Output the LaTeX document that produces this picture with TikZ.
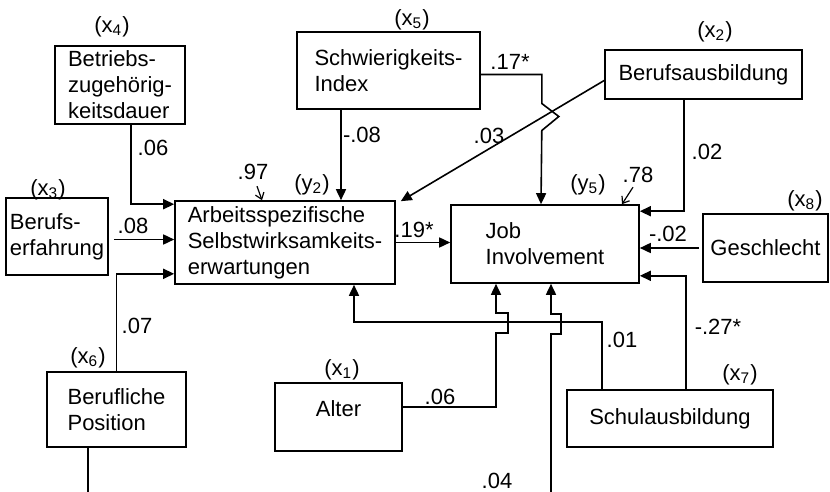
\documentclass[tikz,border=0pt]{standalone}
\usepackage{fontspec}
\setmainfont{Liberation Sans}
\usetikzlibrary{arrows.meta,calc}

\tikzset{
  var/.style={draw, line width=0.8pt, align=left, inner sep=0pt},
  arr/.style={line width=0.8pt, -{Triangle[length=5.5pt,width=5pt]}},
  lin/.style={line width=0.8pt},
  res/.style={line width=0.6pt, -{Straight Barb[length=3pt,width=4.5pt]}},
  coef/.style={inner sep=1pt},
  idx/.style={inner sep=1pt}
}

\begin{document}
\begin{tikzpicture}[x=0.5pt,y=-0.5pt,font=\fontsize{11}{13}\selectfont]
  \useasboundingbox (0,0) rectangle (830,492);

  % Variables
  \node[var, minimum width=65pt, minimum height=39pt] (x4) at (120,85) {Betriebs-\\zugehörig-\\keitsdauer};
  \node[var, minimum width=91.5pt, minimum height=38.5pt] (x5) at (388.5,70.5) {Schwierigkeits-\\Index};
  \node[var, minimum width=98.5pt, minimum height=24.5pt] (x2) at (703.5,74.5) {Berufsausbildung};
  \node[var, minimum width=51pt, minimum height=38.5pt] (x3) at (57,236.5) {Berufs-\\erfahrung};
  \node[var, minimum width=110pt, minimum height=41.5pt] (y2) at (285,242.5) {Arbeitsspezifische\\Selbstwirksamkeits-\\erwartungen};
  \node[var, minimum width=94pt, minimum height=39pt] (y5) at (545,244) {Job\\Involvement};
  \node[var, minimum width=62.5pt, minimum height=34pt] (x8) at (765.5,248) {Geschlecht};
  \node[var, minimum width=69.5pt, minimum height=37.5pt] (x6) at (116.5,409.5) {Berufliche\\Position};
  \node[var, minimum width=63.5pt, text height=16.5pt, text depth=17.5pt] (x1) at (338.5,417) {Alter};
  \node[var, minimum width=103pt, minimum height=28.5pt] (x7) at (670,418.5) {Schulausbildung};

  % Indices
  \node[idx] (ix4) at (112,27) {(x\textsubscript{4})};
  \node[idx] (ix5) at (412,20) {(x\textsubscript{5})};
  \node[idx] (ix2) at (715,32) {(x\textsubscript{2})};
  \node[idx] (ix3) at (48,190) {(x\textsubscript{3})};
  \node[idx] (iy2) at (312,185) {(y\textsubscript{2})};
  \node[idx] (iy5) at (588,185) {(y\textsubscript{5})};
  \node[idx] (ix8) at (805,201) {(x\textsubscript{8})};
  \node[idx] (ix6) at (88,358) {(x\textsubscript{6})};
  \node[idx] (ix1) at (342,370) {(x\textsubscript{1})};
  \node[idx] (ix7) at (740,375) {(x\textsubscript{7})};

  % Residuals
  \node[coef] (r2) at (253,172) {.97};
  \node[coef] (r5) at (638,175) {.78};
  \draw[res] ($(r2.south)+(4,4)$) -- ($(y2.north)+(-23,0)$);
  \draw[res] ($(r5.south)+(-5,2)$) -- ($(y5.north)+(77,0)$);

  % Paths
  \coordinate (x6end) at (88,492);
  \coordinate (cut) at (551,492);
  \draw[arr] ($(x4.south)+(11,0)$) |- ($(y2.north west)+(0,4)$);
  \draw[arr] ($(x3.east)+(5,3)$) -- ($(x3.east -| y2.west)+(0,3)$);
  \draw[arr] (x6.north) |- ($(y2.south west)+(0,-11)$);
  \draw[lin] (x6.south -| x6end) -- (x6end);
  \draw[arr] ($(x5.south)+(-47.5,0)$) -- ($(y2.north)+(56,0)$);
  \draw[arr] ($(x5.east)+(0,4)$) -| ++(61,29) -- ++(17,13) -- ++(-17,14) -- ($(y5.north)+(-4,0)$);
  \draw[arr] ($(x2.west)+(0,6)$) -- ($(y2.north east)+(5,1)$);
  \draw[arr] ($(x2.south)+(-19.5,0)$) |- ($(y5.north east)+(0,7)$);
  \draw[arr] ($(x8.west)+(-3,0)$) -- (x8.west -| y5.east);
  \draw[arr] ($(x7.north)+(16,0)$) |- ($(y5.south east)+(0,-8)$);
  \draw[arr] ($(x7.north)+(-68,0)$) |- ($(y2.south)+(69,37)$) -- ($(y2.south)+(69,0)$);
  \draw[arr] ($(x1.east)+(0,-10)$) -| ($(y5.south)+(-49,49)$) -- ++(12,0) -- ++(0,-20) -- ++(-12,0) -- ($(y5.south)+(-49,0)$);
  \draw[arr] (cut) -- ($(y5.south)+(6,50)$) -- ++(10,0) -- ++(0,-20) -- ++(-10,0) -- ($(y5.south)+(6,0)$);
  \draw[arr] (y2.east) -- (y2.east -| y5.west);

  % Coefficients
  \node[coef] (b42) at (153,148) {.06};
  \node[coef] (b32) at (133,226) {.08};
  \node[coef] (b62) at (137,326) {.07};
  \node[coef] (b52) at (362,135) {-.08};
  \node[coef] (b55) at (510,62) {.17*};
  \node[coef] (b22) at (489,136) {.03};
  \node[coef] (b25) at (707,152) {.02};
  \node[coef] (b85) at (668,234) {-.02};
  \node[coef] (b75) at (718,327) {-.27*};
  \node[coef] (b72) at (622,340) {.01};
  \node[coef] (b15) at (440,397) {.06};
  \node[coef] (b05) at (497,481) {.04};
  \node[coef] (b2y) at (414,230) {.19*};
\end{tikzpicture}
\end{document}
